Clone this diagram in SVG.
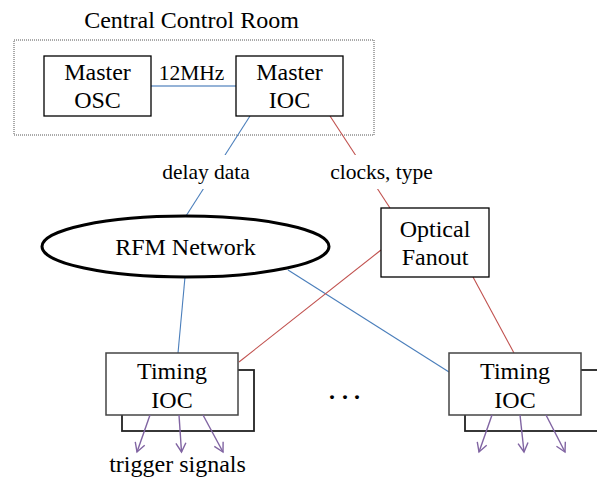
<svg xmlns="http://www.w3.org/2000/svg" width="597" height="478" viewBox="0 0 597 478">
<style>
text{font-family:"Liberation Serif","Times New Roman",serif;fill:#000;text-anchor:middle}
.t24{font-size:24px}
.t21{font-size:21.5px}
.box{fill:#fff;stroke:#000;stroke-width:1.3}
.gbox{fill:#fff;stroke:#444;stroke-width:1.5}
.back{fill:#fff;stroke:#222;stroke-width:1.8}
.blue{stroke:#4a7ebb;stroke-width:1.1;fill:none}
.red{stroke:#c0504d;stroke-width:1.1;fill:none}
.purple{stroke:#8064a2;stroke-width:1.4;fill:none}
</style>
<defs>
<marker id="arr" viewBox="0 0 12 12" refX="10" refY="6" markerWidth="12" markerHeight="12" markerUnits="userSpaceOnUse" orient="auto">
<path d="M1,1 L10,6 L1,11" fill="none" stroke="#8064a2" stroke-width="1.4"/>
</marker>
</defs>

<g id="room">
<rect x="14" y="40" width="360" height="95" fill="none" stroke="#555" stroke-width="1" stroke-dasharray="1,1"/>
<text class="t24" x="191.5" y="28">Central Control Room</text>
</g>

<g id="connectors">
<line x1="151" y1="86" x2="236" y2="86" stroke="#95b3d7" stroke-width="2"/>
<line class="blue" x1="250" y1="116" x2="186" y2="216"/>
<line class="red" x1="330" y1="116" x2="390" y2="208"/>
<line class="blue" x1="185" y1="277" x2="178" y2="353"/>
<line class="blue" x1="288" y1="270" x2="449" y2="372"/>
<line class="red" x1="381" y1="250" x2="239" y2="362"/>
<line class="red" x1="473" y1="277" x2="514" y2="353"/>
</g>

<g id="labels">
<rect x="158" y="155" width="96" height="34" fill="#fff"/>
<text class="t21" x="206" y="179">delay data</text>
<rect x="326" y="155" width="111" height="34" fill="#fff"/>
<text class="t21" x="381.5" y="179">clocks, type</text>
<text class="t21" x="191.5" y="80">12MHz</text>
</g>

<g id="master-osc">
<rect class="box" x="44" y="56" width="107" height="60"/>
<text class="t24" x="97.5" y="80">Master</text>
<text class="t24" x="97.5" y="108">OSC</text>
</g>

<g id="master-ioc">
<rect class="box" x="236" y="56" width="107" height="60"/>
<text class="t24" x="289.5" y="80">Master</text>
<text class="t24" x="289.5" y="108">IOC</text>
</g>

<g id="rfm-network">
<ellipse cx="185.5" cy="246.5" rx="143.5" ry="30.5" fill="#fff" stroke="#000" stroke-width="3"/>
<text class="t24" x="185.5" y="255">RFM Network</text>
</g>

<g id="optical-fanout">
<rect class="box" x="381" y="208" width="108" height="69"/>
<text class="t24" x="435" y="237">Optical</text>
<text class="t24" x="435" y="265">Fanout</text>
</g>

<g id="timing-ioc-left">
<rect class="back" x="122" y="370" width="132" height="61"/>
<rect class="gbox" x="106" y="353" width="132" height="62"/>
<text class="t24" x="172" y="379">Timing</text>
<text class="t24" x="172" y="408">IOC</text>
<line class="purple" x1="150" y1="415" x2="137" y2="452" marker-end="url(#arr)"/>
<line class="purple" x1="179" y1="415" x2="181.5" y2="452" marker-end="url(#arr)"/>
<line class="purple" x1="203" y1="415" x2="223" y2="452" marker-end="url(#arr)"/>
<text class="t24" x="177.5" y="472">trigger signals</text>
</g>

<g id="ellipsis">
<text class="t24" style="font-weight:bold;text-anchor:start" x="329 342 354" y="399">...</text>
</g>

<g id="timing-ioc-right">
<rect class="back" x="465" y="370" width="134" height="61"/>
<rect class="gbox" x="449" y="353" width="132" height="62"/>
<text class="t24" x="515" y="379">Timing</text>
<text class="t24" x="515" y="408">IOC</text>
<line class="purple" x1="492" y1="415" x2="479" y2="452" marker-end="url(#arr)"/>
<line class="purple" x1="520" y1="415" x2="524" y2="452" marker-end="url(#arr)"/>
<line class="purple" x1="546" y1="415" x2="565" y2="452" marker-end="url(#arr)"/>
</g>
</svg>
